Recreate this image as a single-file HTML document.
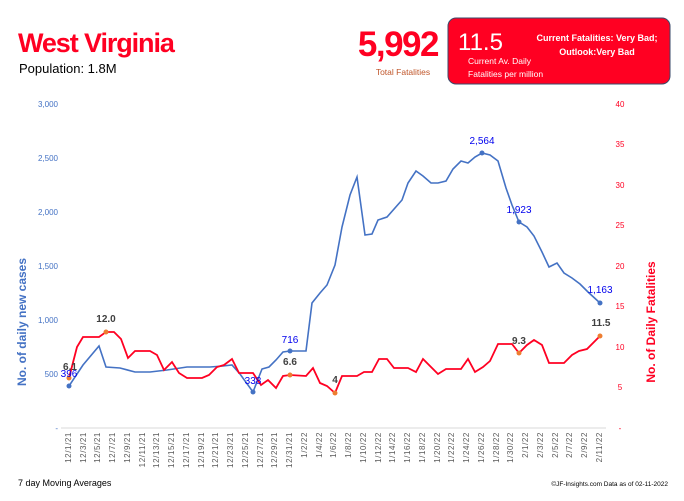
<!DOCTYPE html>
<html><head><meta charset="utf-8"><style>
body{margin:0;background:#fff;width:684px;height:496px;overflow:hidden;font-family:"Liberation Sans",sans-serif;}
</style></head><body>
<svg width="684" height="496" xmlns="http://www.w3.org/2000/svg" font-family="Liberation Sans, sans-serif">
<text x="18" y="52" font-size="27" font-weight="bold" fill="#ff0022" letter-spacing="-1.1">West Virginia</text>
<text x="19" y="73" font-size="13" fill="#000">Population: 1.8M</text>
<text x="438" y="56" font-size="35" font-weight="bold" fill="#ff0022" text-anchor="end" letter-spacing="-1.5">5,992</text>
<text x="403" y="75" font-size="8.5" fill="#c0562a" text-anchor="middle">Total Fatalities</text>
<rect x="448" y="18" width="222" height="66" rx="8" fill="#ff0022" stroke="#3a4a6a" stroke-width="1"/>
<text x="458" y="50" font-size="24" fill="#fff">11.5</text>
<text x="597" y="41" font-size="9" font-weight="bold" fill="#fff" text-anchor="middle">Current Fatalities: Very Bad;</text>
<text x="597" y="55" font-size="9" font-weight="bold" fill="#fff" text-anchor="middle">Outlook:Very Bad</text>
<text x="468" y="64" font-size="8.5" fill="#fff">Current Av. Daily</text>
<text x="468" y="77" font-size="8.5" fill="#fff">Fatalities per million</text>
<g font-size="8" fill="#4472c4" text-anchor="end">
<text x="58" y="107">3,000</text><text x="58" y="161">2,500</text><text x="58" y="215">2,000</text><text x="58" y="269">1,500</text><text x="58" y="323">1,000</text><text x="58" y="377">500</text><text x="58" y="431">-</text>
</g>
<g font-size="8" fill="#ff0022" text-anchor="middle">
<text x="620" y="107">40</text><text x="620" y="147">35</text><text x="620" y="188">30</text><text x="620" y="228">25</text><text x="620" y="269">20</text><text x="620" y="309">15</text><text x="620" y="350">10</text><text x="620" y="390">5</text><text x="620" y="431">-</text>
</g>
<text x="0" y="0" font-size="12" font-weight="bold" fill="#4472c4" transform="translate(26,322) rotate(-90)" text-anchor="middle">No. of daily new  cases</text>
<text x="0" y="0" font-size="12" font-weight="bold" fill="#ff0022" transform="translate(655,322) rotate(-90)" text-anchor="middle">No. of Daily Fatalities</text>
<line x1="61" y1="428" x2="606" y2="428" stroke="#d9d9d9" stroke-width="1"/>
<g font-size="8" fill="#595959" text-anchor="end" letter-spacing="0.6">
<text transform="translate(71,432) rotate(-90)">12/1/21</text>
<text transform="translate(86,432) rotate(-90)">12/3/21</text>
<text transform="translate(100,432) rotate(-90)">12/5/21</text>
<text transform="translate(115,432) rotate(-90)">12/7/21</text>
<text transform="translate(130,432) rotate(-90)">12/9/21</text>
<text transform="translate(145,432) rotate(-90)">12/11/21</text>
<text transform="translate(159,432) rotate(-90)">12/13/21</text>
<text transform="translate(174,432) rotate(-90)">12/15/21</text>
<text transform="translate(189,432) rotate(-90)">12/17/21</text>
<text transform="translate(204,432) rotate(-90)">12/19/21</text>
<text transform="translate(218,432) rotate(-90)">12/21/21</text>
<text transform="translate(233,432) rotate(-90)">12/23/21</text>
<text transform="translate(248,432) rotate(-90)">12/25/21</text>
<text transform="translate(263,432) rotate(-90)">12/27/21</text>
<text transform="translate(277,432) rotate(-90)">12/29/21</text>
<text transform="translate(292,432) rotate(-90)">12/31/21</text>
<text transform="translate(307,432) rotate(-90)">1/2/22</text>
<text transform="translate(322,432) rotate(-90)">1/4/22</text>
<text transform="translate(336,432) rotate(-90)">1/6/22</text>
<text transform="translate(351,432) rotate(-90)">1/8/22</text>
<text transform="translate(366,432) rotate(-90)">1/10/22</text>
<text transform="translate(381,432) rotate(-90)">1/12/22</text>
<text transform="translate(395,432) rotate(-90)">1/14/22</text>
<text transform="translate(410,432) rotate(-90)">1/16/22</text>
<text transform="translate(425,432) rotate(-90)">1/18/22</text>
<text transform="translate(440,432) rotate(-90)">1/20/22</text>
<text transform="translate(454,432) rotate(-90)">1/22/22</text>
<text transform="translate(469,432) rotate(-90)">1/24/22</text>
<text transform="translate(484,432) rotate(-90)">1/26/22</text>
<text transform="translate(499,432) rotate(-90)">1/28/22</text>
<text transform="translate(513,432) rotate(-90)">1/30/22</text>
<text transform="translate(528,432) rotate(-90)">2/1/22</text>
<text transform="translate(543,432) rotate(-90)">2/3/22</text>
<text transform="translate(558,432) rotate(-90)">2/5/22</text>
<text transform="translate(572,432) rotate(-90)">2/7/22</text>
<text transform="translate(587,432) rotate(-90)">2/9/22</text>
<text transform="translate(602,432) rotate(-90)">2/11/22</text>
</g>
<polyline fill="none" stroke="#4472c4" stroke-width="1.6" points="69,386 83,365 99,346 106,367 120,368 135,372 150,372 167,370 187,367 210,367 223,366 232,365 240,374 253,392 262,369 269,367 276,360 283,352 290,351 306,351 312,303 320,293 327,285 335,265 342,227 350,195 357,177 365,235 372,234 378,220 387,217 402,200 408,183 416,171 423,176 431,183 438,183 446,181 453,169 461,161 468,163 475,157 482,153 490,155 498,161 506,188 512,205 519,222 527,227 534,236 542,252 549,267 557,263 564,273 572,278 580,284 588,292 600,303"/>
<polyline fill="none" stroke="#ff0022" stroke-width="1.8" points="69,378 77,347 83,337 99,337 106,332 114,332 121,339 128,358 135,351 150,351 157,355 164,370 172,362 179,373 187,378 202,378 209,375 217,367 224,365 232,359 239,373 253,373 261,385 268,380 276,388 283,376 290,375 306,376 313,368 320,383 327,386 335,393 342,376 357,376 364,372 372,372 379,359 387,359 394,368 408,368 416,372 423,359 431,367 438,374 446,369 461,369 468,359 475,372 483,367 490,361 498,344 512,344 519,353 527,345 534,340 542,345 549,363 564,363 572,355 579,351 587,349 600,336"/>
<g fill="#4472c4"><circle cx="69" cy="386" r="2.5"/><circle cx="253" cy="392" r="2.5"/><circle cx="290" cy="351" r="2.5"/><circle cx="482" cy="153" r="2.5"/><circle cx="519" cy="222" r="2.5"/><circle cx="600" cy="303" r="2.5"/></g>
<g fill="#ed7d31"><circle cx="69" cy="378" r="2.5"/><circle cx="106" cy="332" r="2.5"/><circle cx="290" cy="375" r="2.5"/><circle cx="335" cy="393" r="2.5"/><circle cx="519" cy="353" r="2.5"/><circle cx="600" cy="336" r="2.5"/></g>
<g font-size="10" fill="#0000ee" text-anchor="middle">
<text x="69" y="377">396</text><text x="253" y="384">338</text><text x="290" y="343">716</text><text x="482" y="144">2,564</text><text x="519" y="213">1,923</text><text x="600" y="293">1,163</text>
</g>
<g font-size="10" font-weight="bold" fill="#404040" text-anchor="middle">
<text x="70" y="370">6.1</text><text x="106" y="322">12.0</text><text x="290" y="365">6.6</text><text x="335" y="383">4</text><text x="519" y="344">9.3</text><text x="601" y="326">11.5</text>
</g>
<text x="18" y="486" font-size="9" fill="#000">7 day Moving Averages</text>
<text x="668" y="486" font-size="6.5" fill="#000" text-anchor="end">©JF-Insights.com  Data as of 02-11-2022</text>
</svg>
</body></html>
